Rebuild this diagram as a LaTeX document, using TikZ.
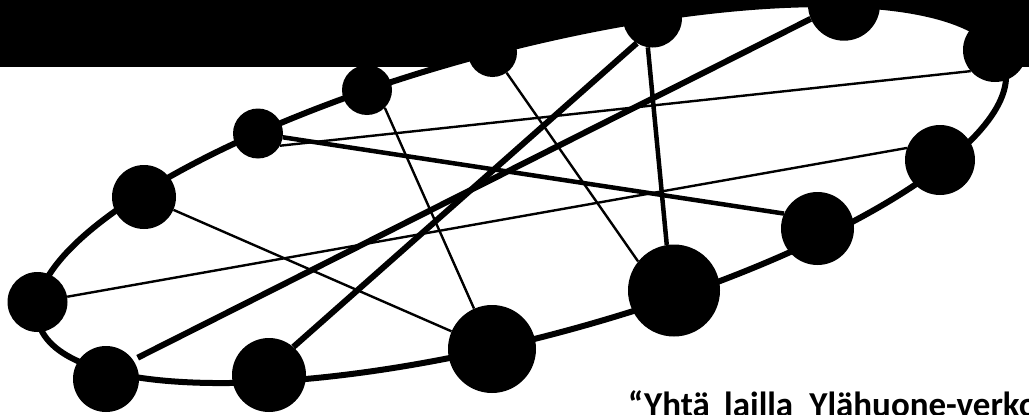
\documentclass[tikz,border=0pt]{standalone}
\usepackage{fontspec}
\setmainfont{Carlito}
\usetikzlibrary{calc}
\pgfdeclarelayer{back}
\pgfdeclarelayer{mid}
\pgfsetlayers{back,mid,main}
\begin{document}
\begin{tikzpicture}[x=1pt,y=-1pt,
  dot/.style={circle, fill=black, draw=none, inner sep=0pt, minimum size=#1},
  ring/.style={line width=6pt},
  thinlink/.style={line width=2.4pt},
  midlink/.style={line width=4.5pt},
  thicklink/.style={line width=6pt},
  quote/.style={font=\fontsize{35}{42}\selectfont\bfseries, inner sep=0pt, anchor=base west}
]
\useasboundingbox (0,0) rectangle (1029,415);
\coordinate (c) at (521.5,193.6);
\begin{pgfonlayer}{back}
  \fill[black] (0,0) rectangle (1029,67);
  \filldraw[fill=white, draw=black, ring, rotate around={14.9:(c)}] (c) ellipse [x radius=500pt, y radius=144pt];
\end{pgfonlayer}
% nodes
\node[dot=60pt] (n1) at (37.5,302) {};
\node[dot=66pt] (n2) at (106,379) {};
\node[dot=74pt] (n3) at (269,375) {};
\node[dot=88pt] (n4) at (492,349) {};
\node[dot=92pt] (n5) at (674,290.5) {};
\node[dot=73pt] (n6) at (817.5,228.5) {};
\node[dot=70pt] (n7) at (940,160) {};
\node[dot=64pt] (n8) at (995,50) {};
\node[dot=72pt] (n9) at (844,4.7) {};
\node[dot=59pt] (n10) at (652.5,18) {};
\node[dot=49pt] (n11) at (492.5,52.5) {};
\node[dot=50pt] (n12) at (367,90) {};
\node[dot=50pt] (n13) at (258,133.5) {};
\node[dot=64pt] (n14) at (144,197) {};
% links
\begin{pgfonlayer}{mid}
  \draw[thinlink] (n14) -- (n4);
  \draw[thinlink] (n1) -- (n7.160);
  \draw[thinlink] (n13.-29) -- (n8.221);
  \draw[thinlink] (n12.-45) -- (n4);
  \draw[thinlink] (n11) -- (n5.141);
  \draw[midlink] (n10.-99) -- (n5.99);
  \draw[midlink] (n13) -- (n6.156);
  \draw[thicklink] (n3.49) -- (n10.238);
  \draw[thicklink, shorten <=5pt] (n2.35) -- (n9.203);
\end{pgfonlayer}
\node[quote] (txt) at (628,416) {\makebox[96pt][l]{“Yhtä}\makebox[85pt][l]{lailla}Ylähuone-verko};
\end{tikzpicture}
\end{document}
